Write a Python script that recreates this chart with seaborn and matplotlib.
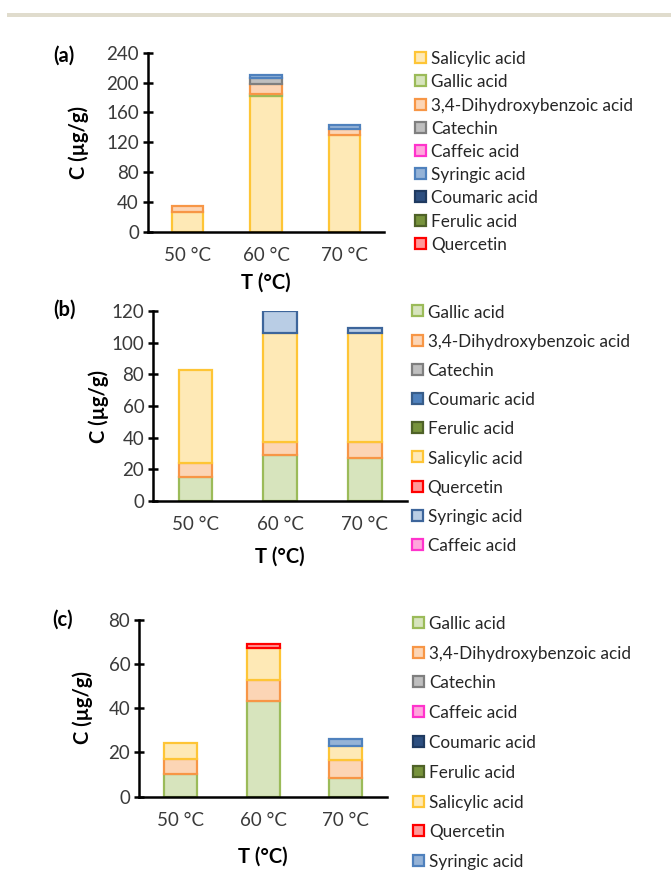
import matplotlib
matplotlib.use("Agg")
import matplotlib.pyplot as plt
from matplotlib.patches import Rectangle
import numpy as np
import pandas as pd
import seaborn as sns

sns.set_theme(style="white")
plt.rcParams["font.family"] = ["Lato", "DejaVu Sans"]

W, H = 671, 871
DPI = 100

temps = ["50 °C", "60 °C", "70 °C"]

# Panel (a) layers, bottom to top
a_series = ["Salicylic acid", "Gallic acid", "3,4-Dihydroxybenzoic acid", "Catechin",
            "Caffeic acid", "Syringic acid", "Coumaric acid", "Ferulic acid", "Quercetin"]
a_salicylic = [27, 182, 129]
a_gallic = [0, 3, 0]
a_dhb = [8, 12.5, 9]
a_catechin = [0, 8, 0]
a_caffeic = [0, 0, 0]
a_syringic = [0, 5, 5]
a_coumaric = [0, 0, 0]
a_ferulic = [0, 0, 0]
a_quercetin = [0, 0, 0]

# Panel (b) layers, bottom to top
b_series = ["Gallic acid", "3,4-Dihydroxybenzoic acid", "Catechin", "Coumaric acid",
            "Ferulic acid", "Salicylic acid", "Quercetin", "Syringic acid", "Caffeic acid"]
b_gallic = [15, 29, 27]
b_dhb = [9, 8, 10]
b_catechin = [0, 0, 0]
b_coumaric = [0, 0, 0]
b_ferulic = [0, 0, 0]
b_salicylic = [59, 69, 69]
b_quercetin = [0, 0, 0]
b_syringic = [0, 14, 3]
b_caffeic = [0, 0, 0]

# Panel (c) layers, bottom to top
c_series = ["Gallic acid", "3,4-Dihydroxybenzoic acid", "Catechin", "Caffeic acid",
            "Coumaric acid", "Ferulic acid", "Salicylic acid", "Quercetin", "Syringic acid"]
c_gallic = [10, 43, 8.5]
c_dhb = [7, 9.5, 8]
c_catechin = [0, 0, 0]
c_caffeic = [0, 0, 0]
c_coumaric = [0, 0, 0]
c_ferulic = [0, 0, 0]
c_salicylic = [7, 14.5, 6.5]
c_quercetin = [0, 2, 0]
c_syringic = [0, 0, 3]

# fill / edge colours
base_colors = {
    "Salicylic acid": ("#fee9b6", "#fec536"),
    "Gallic acid": ("#d7e4bd", "#9bbb59"),
    "3,4-Dihydroxybenzoic acid": ("#fcd5b5", "#f79646"),
    "Catechin": ("#bfbfbf", "#7f7f7f"),
    "Caffeic acid": ("#ffa6dc", "#ff33cc"),
    "Syringic acid": ("#95b3d7", "#4f81bd"),
    "Coumaric acid": ("#2d4f80", "#1f3a60"),
    "Ferulic acid": ("#77933c", "#4f6228"),
    "Quercetin": ("#ff9999", "#ff0000"),
}
b_colors = dict(base_colors)
b_colors["Coumaric acid"] = ("#4f81bd", "#385d8a")
b_colors["Syringic acid"] = ("#b9cde5", "#3d659b")

panels = [
    dict(tag="(a)", series=a_series,
         values=[a_salicylic, a_gallic, a_dhb, a_catechin, a_caffeic,
                 a_syringic, a_coumaric, a_ferulic, a_quercetin],
         colors=base_colors, ymax=240, ystep=40,
         box=(148, 52.7, 384, 231.7),
         tag_xy=(64, 56), ylab_x=79, xlab_y=283,
         leg=dict(y0=57.7, dy=23.2, mx=415, tx=431)),
    dict(tag="(b)", series=b_series,
         values=[b_gallic, b_dhb, b_catechin, b_coumaric, b_ferulic,
                 b_salicylic, b_quercetin, b_syringic, b_caffeic],
         colors=b_colors, ymax=120, ystep=20,
         box=(153.3, 311, 407, 501),
         tag_xy=(64, 310), ylab_x=99, xlab_y=556.5,
         leg=dict(y0=311, dy=29.2, mx=412, tx=427.5)),
    dict(tag="(c)", series=c_series,
         values=[c_gallic, c_dhb, c_catechin, c_caffeic, c_coumaric,
                 c_ferulic, c_salicylic, c_quercetin, c_syringic],
         colors=base_colors, ymax=80, ystep=20,
         box=(139.3, 619.5, 387, 796.5),
         tag_xy=(63, 620), ylab_x=83, xlab_y=856.5,
         leg=dict(y0=622.3, dy=29.8, mx=413, tx=429)),
]

fig = plt.figure(figsize=(W / DPI, H / DPI), dpi=DPI)
fig.patch.set_facecolor("white")

# thin rule across the top of the page
fig.add_artist(Rectangle((7 / W, 1 - 17.5 / H), (W - 7) / W, 4.5 / H,
                         transform=fig.transFigure, facecolor="#e0dccd",
                         edgecolor="none"))

tick_color = "#3a3a3a"
text_color = "#262626"

for p in panels:
    l, t, r, b = p["box"]
    ax = fig.add_axes([l / W, 1 - b / H, (r - l) / W, (b - t) / H])
    bottoms = np.zeros(len(temps))
    for name, vals in zip(p["series"], p["values"]):
        vals = np.asarray(vals, dtype=float)
        keep = vals > 0
        if keep.any():
            df = pd.DataFrame({"T": np.array(temps)[keep], "C": vals[keep]})
            fc, ec = p["colors"][name]
            sns.barplot(data=df, x="T", y="C", order=temps, ax=ax,
                        bottom=bottoms[keep], color=fc, saturation=1,
                        edgecolor=ec, linewidth=1.6, width=0.4,
                        errorbar=None)
        bottoms = bottoms + vals

    ax.set_xlim(-0.5, 2.5)
    ax.set_ylim(0, p["ymax"])
    ax.set_yticks(np.arange(0, p["ymax"] + 1, p["ystep"]))
    ax.set_xlabel("")
    ax.set_ylabel("")
    for s in ["top", "right"]:
        ax.spines[s].set_visible(False)
    for s in ["left", "bottom"]:
        ax.spines[s].set_color("black")
        ax.spines[s].set_linewidth(1.8)
    ax.tick_params(axis="y", direction="inout", length=7, width=1.8,
                   color="black", labelsize=13.5, labelcolor=tick_color, pad=3,
                   left=True)
    ax.tick_params(axis="x", length=0, labelsize=13.5, labelcolor=tick_color,
                   pad=11)
    ax.set_facecolor("none")
    ax.grid(False)

    # panel tag and axis titles
    fig.text(p["tag_xy"][0] / W, 1 - p["tag_xy"][1] / H, p["tag"],
             ha="center", va="center", fontsize=14.5, fontweight="bold",
             color="black")
    fig.text(p["ylab_x"] / W, 1 - ((t + b) / 2) / H, "C (µg/g)",
             rotation=90, ha="center", va="center", fontsize=14.5,
             fontweight="bold", color="black")
    xc = (l + r) / 2
    fig.text(xc / W, 1 - p["xlab_y"] / H, "T (°C)", ha="center",
             va="center", fontsize=14.5, fontweight="bold", color="black")

    # legend entries
    lg = p["leg"]
    for i, name in enumerate(p["series"]):
        yc = lg["y0"] + i * lg["dy"]
        fc, ec = p["colors"][name]
        fig.add_artist(Rectangle((lg["mx"] / W, 1 - (yc + 5.5) / H), 11 / W,
                                 11 / H, transform=fig.transFigure,
                                 facecolor=fc, edgecolor=ec, linewidth=1.6))
        fig.text(lg["tx"] / W, 1 - yc / H, name, ha="left",
                 va="center_baseline", fontsize=12.3, color=text_color)

fig.savefig("out.png", dpi=DPI, facecolor="white")
